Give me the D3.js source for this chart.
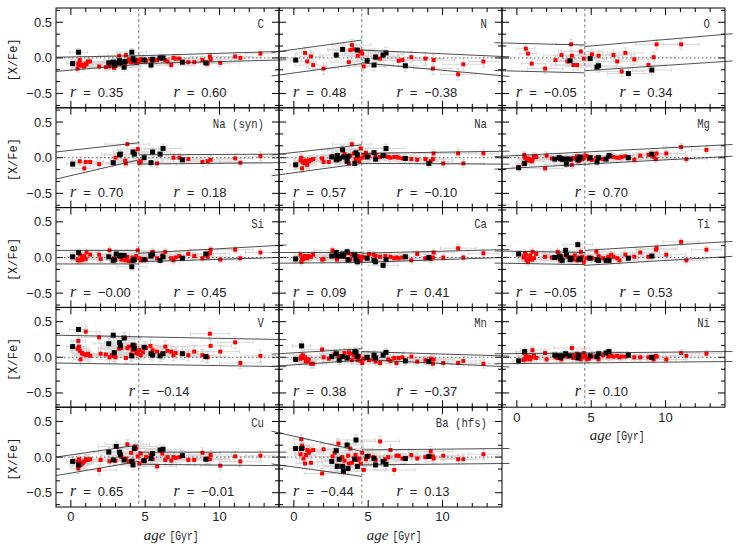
<!DOCTYPE html>
<html><head><meta charset="utf-8">
<script src="https://cdn.jsdelivr.net/npm/d3@7"></script>
<style>body{margin:0;background:#fff}svg{display:block}</style>
</head><body>
<script>
const _ = null;
// ---------- data ----------
const elements = ["C","N","O","Na (syn)","Na","Mg","Si","Ca","Ti","V","Mn","Ni","Cu","Ba (hfs)"];
const xDomain = [-1, 14];
const yDomain = [-0.7, 0.7];
const xMajorTicks = [0, 5, 10];
const xMinorTicks = [1, 2, 3, 4, 6, 7, 8, 9, 11, 12, 13];
const yMajorTicks = [-0.5, 0, 0.5];
const yMinorTicks = [-0.667, -0.333, -0.167, 0.167, 0.333, 0.667];
const solarAge = 4.57;

const blackAge    = [0.12,0.52,2.55,2.85,2.92,3.05,3.28,3.33,3.58,3.64,4.10,4.18,4.27,4.93,5.39,5.50,6.00,6.20,7.50,9.08];
const blackAgeErr = [0.4,0.6,1.0,1.1,0.9,1.2,1.0,1.3,1.1,1.2,1.0,1.3,1.2,1.1,1.3,1.2,1.0,1.2,1.4,1.3];
const redAge = [0.45,0.50,0.55,0.60,0.65,0.75,0.80,0.90,1.00,1.05,
                1.15,1.30,1.90,2.00,2.35,2.60,2.75,2.90,3.00,3.25,
                3.40,3.65,3.70,3.80,3.90,4.05,4.15,4.30,4.40,4.50,
                4.60,4.70,4.85,5.05,5.35,5.50,5.80,6.15,6.35,6.50,
                6.75,6.90,7.05,7.30,7.90,8.30,8.85,9.20,9.35,9.40,
                10.05,11.05,11.40,12.75];
const redAgeErr = [0.4,0.5,0.5,0.6,0.5,0.6,0.7,0.6,0.7,0.8,
                   0.8,0.9,1.2,1.0,1.1,1.2,1.0,1.3,1.2,1.4,
                   1.3,1.0,1.2,1.5,1.3,1.4,1.2,1.5,1.3,1.4,
                   1.2,1.5,1.3,1.4,1.2,1.6,1.3,1.4,1.5,1.2,
                   1.4,1.3,1.5,1.2,1.4,1.3,1.2,1.5,1.3,1.4,
                   1.3,1.2,1.4,1.0];
// typical [X/Fe] error per element (same order as elements)
const yErr = [0.05,0.08,0.07,0.06,0.06,0.05,0.05,0.05,0.05,0.08,0.06,0.05,0.07,0.07];

const C_black  = [-0.08,0.08,-0.07,-0.06,-0.10,-0.07,-0.04,-0.07,-0.13,-0.05,0.08,-0.01,-0.04,-0.03,-0.10,-0.02,0.00,0.00,-0.06,-0.07];
const N_black  = [-0.03,_,_,0.04,_,_,0.12,_,_,_,_,_,0.11,-0.04,-0.10,0.01,0.04,0.07,-0.11,_];
const O_black  = [_,_,_,_,_,_,_,_,-0.04,_,_,_,_,-0.01,-0.13,-0.11,_,_,-0.22,-0.17];
const NaS_black= [-0.09,_,_,-0.07,_,_,0.04,0.05,_,_,_,0.08,0.05,0.00,-0.07,0.08,0.05,0.13,-0.03,_];
const Na_black = [-0.10,_,0.01,-0.03,0.03,-0.01,0.11,0.01,-0.05,0.02,-0.08,0.07,0.04,0.01,0.07,-0.02,0.03,0.13,-0.01,-0.08];
const Mg_black = [-0.14,-0.08,-0.02,0.00,-0.01,-0.02,-0.02,-0.09,-0.02,_,-0.03,-0.02,0.01,0.00,-0.06,0.00,-0.02,0.03,0.00,0.05];
const Si_black = [0.01,0.07,0.01,-0.04,-0.03,0.05,0.03,0.02,0.03,_,-0.13,-0.04,-0.03,-0.03,0.02,0.05,-0.04,0.01,-0.01,0.05];
const Ca_black = [-0.02,_,0.02,0.07,0.02,0.02,0.05,0.02,0.08,-0.03,0.04,-0.03,-0.06,-0.01,-0.04,-0.06,-0.11,-0.03,0.01,0.00];
const Ti_black = [0.05,_,0.00,0.02,-0.01,-0.04,0.10,0.04,-0.03,-0.01,0.18,-0.03,-0.02,-0.01,-0.03,-0.04,-0.04,-0.04,-0.01,0.02];
const V_black  = [0.15,0.39,0.19,0.31,0.065,_,0.205,0.16,0.27,_,0.02,0.17,0.125,0.14,0.05,0.03,0.02,0.05,0.05,0.01];
const Mn_black = [-0.03,0.16,0.01,0.05,_,-0.04,0.01,_,-0.01,_,0.08,0.07,0.01,0.00,0.03,-0.01,0.03,0.07,-0.05,-0.06];
const Ni_black = [-0.05,0.08,0.03,0.02,0.00,0.02,0.05,_,0.02,_,-0.01,0.03,_,0.02,0.01,0.05,0.06,0.08,0.03,0.00];
const Cu_black = [-0.06,-0.11,0.07,-0.04,_,0.15,0.07,0.03,-0.04,_,-0.06,-0.11,0.12,-0.05,-0.02,0.05,0.10,0.11,0.02,-0.03];
const Ba_black = [0.12,0.12,-0.06,0.09,-0.13,-0.03,-0.13,-0.20,0.17,-0.16,-0.03,0.24,-0.13,0.01,-0.02,-0.11,-0.06,-0.10,-0.02,0.01];

const C_red = [-0.15,-0.08,-0.10,-0.03,-0.09,-0.11,-0.10,-0.12,-0.08,-0.09, -0.05,-0.05,-0.12,_,-0.13,-0.12,_,-0.14,-0.11,0.03, -0.08,-0.07,0.04,-0.05,-0.02,-0.06,-0.04,-0.05,-0.07,-0.03, -0.05,-0.02,-0.03,-0.04,-0.02,-0.04,-0.03,-0.01,-0.03,-0.05, -0.10,0.00,-0.01,-0.01,-0.06,-0.06,-0.03,-0.08,0.02,-0.02, -0.07,0.02,0.00,0.06];
const N_red = [_,_,_,_,_,0.07,_,-0.05,_,_, 0.02,-0.10,_,-0.15,_,_,_,_,_,_, _,_,-0.06,0.11,0.18,0.12,_,0.03,_,0.09, 0.06,-0.12,_,_,_,0.02,-0.01,_,_,_, _,_,-0.04,-0.03,0.01,_,-0.01,_,-0.15,-0.03, _,-0.23,-0.09,-0.05];
const O_red = [_,_,_,0.13,_,0.06,_,_,-0.08,_, _,_,-0.15,_,_,-0.03,_,_,0.04,_, -0.05,0.19,0.03,-0.10,_,-0.10,_,0.09,_,-0.01, _,_,_,0.05,_,0.03,_,_,_,0.04, -0.05,_,-0.19,0.07,-0.02,_,-0.10,0.01,_,0.19, _,0.19,_,_];
const NaS_red = [_,_,_,-0.05,_,_,_,-0.15,-0.06,_, _,-0.06,-0.09,_,_,_,_,_,0.00,_, _,-0.04,-0.08,0.19,_,_,_,_,_,0.12, -0.07,-0.05,_,_,_,_,-0.08,_,_,_, _,0.00,_,0.00,-0.02,_,-0.06,-0.05,_,-0.03, _,-0.01,-0.07,0.02];
const Na_red = [-0.04,0.00,-0.15,-0.06,-0.07,-0.08,-0.04,-0.10,-0.05,-0.04, -0.03,-0.02,-0.01,-0.06,-0.06,0.02,_,0.03,-0.03,0.11, 0.05,0.01,-0.08,0.03,0.19,0.06,-0.02,0.00,-0.05,0.13, 0.00,0.04,0.07,0.02,_,0.04,0.01,0.02,0.01,0.00, 0.01,0.01,0.00,-0.01,-0.02,-0.03,-0.02,-0.05,-0.02,0.06, -0.08,0.06,-0.08,0.06];
const Mg_red = [-0.09,0.04,0.00,_,-0.02,-0.01,-0.04,-0.03,-0.05,-0.03, 0.02,0.01,-0.15,0.03,-0.01,_,_,0.00,-0.03,-0.02, -0.01,-0.02,-0.10,-0.01,-0.01,0.02,-0.05,-0.02,-0.02,0.00, 0.03,0.02,-0.02,-0.03,0.00,-0.01,-0.02,0.01,0.02,0.01, 0.00,0.00,0.01,0.02,-0.03,0.03,0.04,0.01,-0.02,0.06, 0.06,0.15,-0.02,0.11];
const Si_red = [-0.04,-0.03,-0.03,0.04,-0.04,0.02,-0.03,0.02,-0.02,0.07, _,0.04,0.04,-0.02,_,0.10,_,-0.01,-0.03,0.02, -0.03,-0.04,0.00,0.01,-0.05,_,0.00,_,0.02,0.10, -0.01,-0.04,-0.02,-0.03,0.04,0.08,-0.01,0.03,0.08,_, -0.01,-0.04,0.00,0.02,0.05,0.02,-0.01,0.01,0.06,0.11, -0.03,0.11,-0.01,0.07];
const Ca_red = [0.04,-0.06,-0.03,0.00,-0.02,0.02,0.01,-0.01,0.02,_, 0.01,0.04,-0.03,-0.02,_,0.10,0.02,-0.03,_,0.04, 0.01,0.06,_,-0.03,0.04,0.03,-0.01,0.02,0.00,-0.04, 0.01,0.00,_,0.05,0.04,0.02,0.01,0.02,_,0.01, -0.01,0.00,-0.01,0.00,-0.04,0.05,-0.01,-0.02,0.00,0.07, 0.00,0.13,0.00,0.06];
const Ti_red = [0.00,0.02,0.06,0.04,-0.04,-0.06,-0.02,0.03,-0.03,0.08, -0.01,0.05,0.01,_,0.00,_,0.08,-0.04,0.02,_, 0.01,0.00,_,-0.03,0.03,-0.04,0.00,0.08,0.01,-0.06, _,-0.01,0.00,-0.01,0.08,0.02,-0.01,0.01,0.04,0.01, -0.01,-0.04,_,0.04,0.01,0.07,0.01,_,0.11,0.13, 0.04,0.22,-0.04,0.11];
const V_red = [0.12,0.23,0.15,0.09,-0.03,0.06,0.05,0.04,0.36,0.03, 0.05,0.02,0.28,0.05,0.04,0.00,0.03,0.02,0.00,0.12, 0.13,0.27,-0.01,0.13,0.15,0.04,0.10,0.17,0.06,0.05, 0.10,0.03,0.07,0.13,0.16,0.10,0.08,0.05,0.15,0.09, 0.08,0.03,0.06,_,0.03,0.08,0.03,0.00,0.33,0.16, 0.08,0.21,-0.08,0.02];
const Mn_red = [-0.02,0.01,-0.01,0.03,-0.01,0.00,-0.06,-0.05,-0.03,_, -0.09,-0.09,0.11,0.00,-0.02,_,0.05,_,0.02,0.01, 0.06,0.01,0.07,0.05,-0.04,0.03,0.00,-0.04,0.02,-0.05, -0.08,-0.02,0.00,-0.04,-0.03,-0.06,-0.08,_,-0.03,-0.05, -0.01,-0.08,-0.01,0.00,0.01,-0.06,-0.04,-0.02,-0.09,-0.03, -0.08,-0.08,-0.05,-0.09];
const Ni_red = [-0.04,0.06,-0.03,0.02,-0.02,-0.01,0.01,-0.03,0.00,0.10, 0.02,-0.01,0.06,-0.03,_,0.00,-0.01,_,-0.03,0.02, 0.01,_,0.13,-0.01,0.03,0.05,0.01,-0.03,0.00,0.06, 0.02,-0.03,-0.02,0.01,0.00,-0.03,0.03,0.01,0.02,0.01, 0.02,0.00,0.01,0.01,0.00,0.00,0.00,-0.03,0.02,0.01, -0.03,0.06,0.02,0.05];
const Cu_red = [-0.06,-0.16,-0.03,-0.07,-0.11,-0.09,-0.08,-0.06,-0.04,-0.03, -0.04,-0.03,-0.18,-0.04,_,-0.06,_,_,-0.05,0.07, 0.00,-0.03,-0.02,0.18,-0.06,0.06,-0.05,0.15,0.12,0.01, -0.09,0.05,-0.05,0.00,0.03,-0.03,-0.13,0.05,-0.04,0.00, -0.05,0.00,-0.01,0.00,-0.04,-0.04,0.06,-0.02,-0.03,0.03, -0.12,0.01,-0.06,0.02];
const Ba_red = [0.04,0.25,0.16,0.13,-0.02,-0.09,0.03,0.10,0.06,0.08, -0.08,0.10,-0.23,0.11,_,0.01,0.06,-0.12,0.19,0.00, -0.05,0.02,-0.09,0.12,-0.08,-0.02,0.03,-0.04,-0.02,-0.09, 0.06,-0.18,-0.03,0.02,0.00,-0.04,0.22,-0.03,0.00,0.10, -0.18,0.02,0.02,-0.02,0.03,-0.02,0.00,0.08,0.01,-0.02, 0.02,-0.03,-0.03,0.04];

// fit envelopes: [upper@a0, upper@a1, lower@a0, lower@a1]
// left segment: a0=-1, a1=4.57 ; right segment: a0=4.57, a1=14 ; single: a0=-1, a1=14
const fitLeft  = [[0.01,0.03,-0.19,-0.09],[0.09,0.25,-0.24,-0.08],[0.21,0.18,-0.18,-0.21],[0.08,0.21,-0.30,-0.03],[0.05,0.18,-0.24,-0.08],_,
                  [0.10,0.10,-0.09,-0.09],[0.07,0.07,-0.08,-0.07],[0.09,0.07,-0.08,-0.10],_,[0.05,0.12,-0.12,-0.04],_,[0.00,0.17,-0.26,-0.06],[0.34,0.08,-0.11,-0.27]];
const fitRight = [[0.03,0.09,-0.08,-0.03],[0.11,0.02,-0.07,-0.25],[0.16,0.33,-0.18,-0.05],[0.04,0.05,-0.09,-0.07],[0.06,0.09,-0.08,-0.09],_,
                  [0.06,0.17,-0.06,0.00],[0.06,0.11,-0.07,0.00],[0.10,0.22,-0.11,0.01],_,[0.08,0.02,-0.03,-0.13],_,[0.07,0.07,-0.10,-0.12],[0.10,0.12,-0.11,-0.09]];
const fitSingle = [_,_,_,_,_,[0.02,0.18,-0.155,0.015],_,_,_,[0.31,0.25,-0.08,-0.13],_,[0.05,0.08,-0.09,-0.06],_,_];

const rLeft   = ["0.35","0.48","\u22120.05","0.70","0.57",_,"\u22120.00","0.09","\u22120.05",_,"0.38",_,"0.65","\u22120.44"];
const rRight  = ["0.60","\u22120.38","0.34","0.18","\u22120.10",_,"0.45","0.41","0.53",_,"\u22120.37",_,"\u22120.01","0.13"];
const rSingle = [_,_,_,_,_,"0.70",_,_,_,"\u22120.14",_,"0.10",_,_];

const blackVals = [C_black,N_black,O_black,NaS_black,Na_black,Mg_black,Si_black,Ca_black,Ti_black,V_black,Mn_black,Ni_black,Cu_black,Ba_black];
const redVals   = [C_red,N_red,O_red,NaS_red,Na_red,Mg_red,Si_red,Ca_red,Ti_red,V_red,Mn_red,Ni_red,Cu_red,Ba_red];

// ---------- drawing ----------
const W = 736, H = 549;
const gridLeft = 56, gridTop = 8, pw = 223, ph = 99.8;
const SANS = "'Liberation Sans', Arial, sans-serif";
const MONO = "'Liberation Mono', 'DejaVu Sans Mono', monospace";
const SERIF = "'Liberation Serif', 'Times New Roman', serif";

const svg = d3.select("body").append("svg").attr("width", W).attr("height", H);
svg.append("rect").attr("width", W).attr("height", H).attr("fill", "#fff");
const defs = svg.append("defs");

const x = d3.scaleLinear().domain(xDomain).range([0, pw]);
const y = d3.scaleLinear().domain(yDomain).range([ph, 0]);

function fitLine(f, a0, a1, t0, t1, which) {
  const v0 = which === 0 ? f[0] : f[2], v1 = which === 0 ? f[1] : f[3];
  const at = t => v0 + (v1 - v0) * (t - a0) / (a1 - a0);
  return [[x(t0), y(at(t0))], [x(t1), y(at(t1))]];
}
function monoText(sel, str, size, perChar) {
  return sel.attr("font-family", MONO).attr("font-size", size)
    .attr("textLength", str.length * perChar).attr("lengthAdjust", "spacingAndGlyphs").text(str);
}

elements.forEach((el, i) => {
  const row = Math.floor(i / 3), col = i % 3;
  const px = gridLeft + col * pw, py = gridTop + row * ph;
  const g = svg.append("g").attr("transform", `translate(${px},${py})`);

  defs.append("clipPath").attr("id", "pc" + i).append("rect")
    .attr("x", px).attr("y", py).attr("width", pw).attr("height", ph);
  defs.append("clipPath").attr("id", "fc" + i).append("rect")
    .attr("x", col === 0 ? px : px - 20).attr("y", py).attr("width", col === 0 ? pw + 20 : pw + 40).attr("height", ph);

  const gc = svg.append("g").attr("clip-path", `url(#pc${i})`)
    .append("g").attr("transform", `translate(${px},${py})`);

  const pts = [];
  redAge.forEach((a, k) => { const v = redVals[i][k]; if (v !== null && v !== undefined) pts.push({a, e: redAgeErr[k], v, c: "red"}); });
  blackAge.forEach((a, k) => { const v = blackVals[i][k]; if (v !== null && v !== undefined) pts.push({a, e: blackAgeErr[k], v, c: "black"}); });

  // error bars
  const ye = yErr[i], cap = 2;
  let d = "";
  pts.forEach(p => {
    const cx = x(p.a), cy = y(p.v), x0 = x(p.a - p.e), x1 = x(p.a + p.e), y0 = y(p.v - ye), y1 = y(p.v + ye);
    d += `M${x0},${cy}H${x1}M${x0},${cy-cap}V${cy+cap}M${x1},${cy-cap}V${cy+cap}`;
    d += `M${cx},${y0}V${y1}M${cx-cap},${y0}H${cx+cap}M${cx-cap},${y1}H${cx+cap}`;
  });
  gc.append("path").attr("d", d).attr("fill", "none").attr("stroke", "#d4d4d4").attr("stroke-width", 0.9);

  // zero line & solar age
  gc.append("line").attr("x1", x(xDomain[0])).attr("x2", x(xDomain[1])).attr("y1", y(0)).attr("y2", y(0))
    .attr("stroke", "#666").attr("stroke-width", 1).attr("stroke-dasharray", "1.5,2.5");
  gc.append("line").attr("x1", x(solarAge)).attr("x2", x(solarAge)).attr("y1", 0).attr("y2", ph)
    .attr("stroke", "#777").attr("stroke-width", 1).attr("stroke-dasharray", "3,2.5");

  // fit envelopes
  const gf = svg.append("g").attr("clip-path", `url(#fc${i})`)
    .append("g").attr("transform", `translate(${px},${py})`);
  const segs = [];
  if (fitLeft[i]) { segs.push(fitLine(fitLeft[i], -1, solarAge, -1.5, solarAge, 0)); segs.push(fitLine(fitLeft[i], -1, solarAge, -1.5, solarAge, 1)); }
  if (fitRight[i]) { segs.push(fitLine(fitRight[i], solarAge, 14, solarAge, 14.5, 0)); segs.push(fitLine(fitRight[i], solarAge, 14, solarAge, 14.5, 1)); }
  if (fitSingle[i]) { segs.push(fitLine(fitSingle[i], -1, 14, -1.5, 14.5, 0)); segs.push(fitLine(fitSingle[i], -1, 14, -1.5, 14.5, 1)); }
  gf.selectAll("line.fit").data(segs).join("line").attr("class", "fit")
    .attr("x1", s => s[0][0]).attr("y1", s => s[0][1]).attr("x2", s => s[1][0]).attr("y2", s => s[1][1])
    .attr("stroke", "#222").attr("stroke-width", 0.8);

  // points
  const red = pts.filter(p => p.c === "red"), blk = pts.filter(p => p.c === "black");
  gc.selectAll("rect.r").data(red).join("rect").attr("class", "r")
    .attr("x", p => x(p.a) - 2).attr("y", p => y(p.v) - 2).attr("width", 4).attr("height", 4).attr("fill", "#ff0000");
  gc.selectAll("rect.b").data(blk).join("rect").attr("class", "b")
    .attr("x", p => x(p.a) - 2.5).attr("y", p => y(p.v) - 2.5).attr("width", 5).attr("height", 5).attr("fill", "#000");

  // frame
  g.append("rect").attr("width", pw).attr("height", ph).attr("fill", "none").attr("stroke", "#000").attr("stroke-width", 1);

  // ticks
  let t = "";
  xMajorTicks.forEach(v => { const X = x(v); t += `M${X},${ph}v-7M${X},0v7`; });
  xMinorTicks.forEach(v => { const X = x(v); t += `M${X},${ph}v-4M${X},0v4`; });
  yMajorTicks.forEach(v => { const Y = y(v); t += `M0,${Y}h7M${pw},${Y}h-7`; });
  yMinorTicks.forEach(v => { const Y = y(v); t += `M0,${Y}h4M${pw},${Y}h-4`; });
  g.append("path").attr("d", t).attr("stroke", "#000").attr("stroke-width", 1).attr("fill", "none");

  // element label
  monoText(g.append("text").attr("x", pw - 15).attr("y", 20).attr("text-anchor", "end").attr("fill", "#333"), el, 13, 6.4);

  // r labels
  function rLabel(X, val) {
    const tx = g.append("text").attr("x", X).attr("y", 89).attr("fill", "#222");
    tx.append("tspan").attr("font-family", SERIF).attr("font-style", "italic").attr("font-size", 16).text("r");
    tx.append("tspan").attr("font-family", SANS).attr("font-size", 13).attr("dx", 7).text("=");
    tx.append("tspan").attr("font-family", SANS).attr("font-size", 13).attr("dx", 7).text(val);
  }
  if (rLeft[i]) rLabel(14, rLeft[i]);
  if (rRight[i]) rLabel(x(6.9), rRight[i]);
  if (rSingle[i]) rLabel(x(3.9), rSingle[i]);

  // y axis labels (first column)
  if (col === 0) {
    yMajorTicks.forEach(v => {
      g.append("text").attr("x", -4).attr("y", y(v) + 4.5).attr("text-anchor", "end")
        .attr("font-family", SANS).attr("font-size", 13).attr("fill", "#222")
        .text(v === 0 ? "0.0" : (v < 0 ? "\u2212" : "") + Math.abs(v).toFixed(1));
    });
    monoText(g.append("text").attr("transform", `translate(-39,${ph / 2 + 2}) rotate(-90)`).attr("text-anchor", "middle").attr("fill", "#222"),
      "[X/Fe]", 13.5, 7.2);
  }

  // x axis labels (bottom panel of each column)
  if (i >= 11) {
    xMajorTicks.forEach(v => {
      g.append("text").attr("x", x(v)).attr("y", ph + 14.5).attr("text-anchor", "middle")
        .attr("font-family", SANS).attr("font-size", 13).attr("fill", "#222").text(v);
    });
    const gx = g.append("g").attr("transform", `translate(${pw / 2},${ph + 33})`);
    gx.append("text").attr("x", -2).attr("text-anchor", "end").attr("fill", "#222")
      .attr("font-family", SERIF).attr("font-style", "italic").attr("font-size", 15).text("age");
    monoText(gx.append("text").attr("x", 2).attr("text-anchor", "start").attr("fill", "#222"), "[Gyr]", 13.5, 5.8);
  }
});
</script>
</body></html>
